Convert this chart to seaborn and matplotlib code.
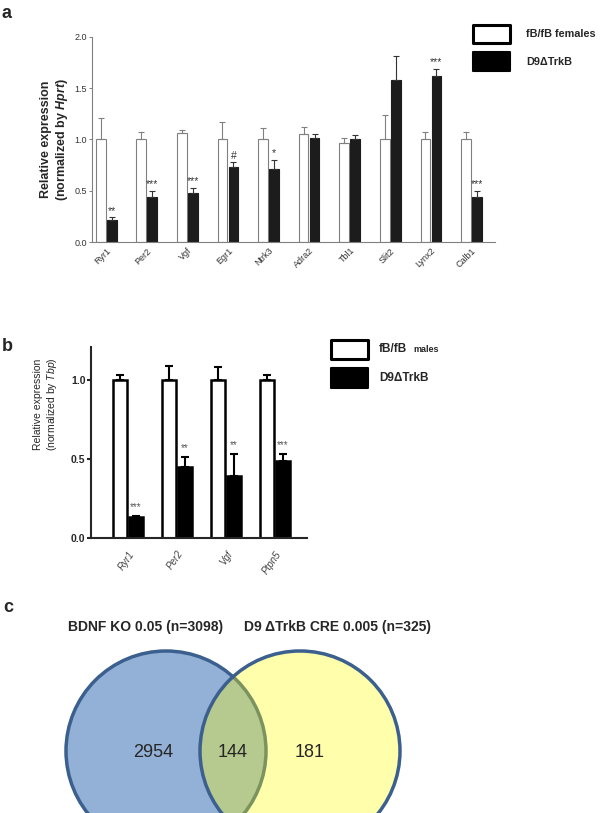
import numpy as np
import pandas as pd
import matplotlib
matplotlib.use('Agg')
import matplotlib.pyplot as plt
import seaborn as sns
from matplotlib.patches import Circle, Rectangle

# Panel a: females, normalized by Hprt
genes_a = ['Ryr1', 'Per2', 'Vgf', 'Egr1', 'Ntrk3', 'Adra2', 'Tbl1', 'Slit2', 'Lynx2', 'Calb1']
ctrl_a = [1.0, 1.0, 1.06, 1.0, 1.0, 1.05, 0.97, 1.0, 1.0, 1.0]
ctrl_a_err = [0.21, 0.07, 0.03, 0.17, 0.11, 0.07, 0.04, 0.24, 0.07, 0.07]
ko_a = [0.21, 0.44, 0.48, 0.73, 0.71, 1.01, 1.0, 1.58, 1.62, 0.44]
ko_a_err = [0.03, 0.06, 0.05, 0.05, 0.09, 0.04, 0.04, 0.23, 0.07, 0.06]
stars_a = ['**', '***', '***', '#', '*', '', '', '', '***', '***']

# Panel b: males, normalized by Tbp
genes_b = ['Ryr1', 'Per2', 'Vgf', 'Ptpn5']
ctrl_b = [1.0, 1.0, 1.0, 1.0]
ctrl_b_err = [0.03, 0.09, 0.085, 0.03]
ko_b = [0.135, 0.45, 0.39, 0.49]
ko_b_err = [0.005, 0.065, 0.14, 0.045]
stars_b = ['***', '**', '**', '***']

# Panel c: venn counts
only_bdnf = 2954
both = 144
only_trkb = 181

W, H = 600, 813

sns.set_style('ticks')
plt.rcParams['font.family'] = ['Liberation Sans', 'DejaVu Sans']
plt.rcParams['mathtext.fontset'] = 'custom'
plt.rcParams['mathtext.rm'] = 'Liberation Sans'
plt.rcParams['mathtext.it'] = 'Liberation Sans:italic'
plt.rcParams['mathtext.bf'] = 'Liberation Sans:bold'
plt.rcParams['mathtext.bfit'] = 'Liberation Sans:italic:bold'


def px_rect(x0, y0, x1, y1):
    # pixel box (top-left origin) -> figure fraction rect
    return [x0 / W, 1 - y1 / H, (x1 - x0) / W, (y1 - y0) / H]


def fx(x):
    return x / W


def fy(y):
    return 1 - y / H


def add_errors(ax, errs_list, colors, lw, cap):
    for cont, errs, col in zip(ax.containers, errs_list, colors):
        xs = [b.get_x() + b.get_width() / 2 for b in cont]
        ys = [b.get_height() for b in cont]
        ax.errorbar(xs, ys, yerr=[np.zeros(len(errs)), errs], fmt='none',
                    ecolor=col, elinewidth=lw, capsize=cap, capthick=lw, zorder=1)


def add_stars(ax, stars, errs, off, size, color):
    cont = ax.containers[1]
    for b, s, e in zip(cont, stars, errs):
        if s:
            x = b.get_x() + b.get_width() / 2
            ax.text(x, b.get_height() + e + off, s, ha='center', va='bottom',
                    fontsize=size, color=color)


fig = plt.figure(figsize=(6, 8.13), dpi=100)

# ---------- panel a ----------
ax_a = fig.add_axes(px_rect(92, 37, 495, 242))
df_a = pd.DataFrame({'gene': genes_a * 2,
                     'group': ['fB/fB females'] * len(genes_a) + ['D9ΔTrkB'] * len(genes_a),
                     'value': ctrl_a + ko_a})
sns.barplot(data=df_a, x='gene', y='value', hue='group', palette=['white', '#1c1c1c'],
            width=0.54, gap=0.12, errorbar=None, legend=False, ax=ax_a, linewidth=0.8)
for cont, ec in zip(ax_a.containers, ['#808080', '#1c1c1c']):
    for b in cont:
        b.set_edgecolor(ec)
add_errors(ax_a, [ctrl_a_err, ko_a_err], ['#808080', '#333333'], 0.8, 2)
add_stars(ax_a, stars_a, ko_a_err, 0.015, 7.5, '#333333')
ax_a.set_xlim(-0.35, 9.58)
ax_a.set_ylim(0, 2.0)
ax_a.set_yticks([0.0, 0.5, 1.0, 1.5, 2.0])
ax_a.set_yticklabels(['0.0', '0.5', '1.0', '1.5', '2.0'])
ax_a.set_xlabel('')
ax_a.set_ylabel('Relative expression\n(normalized by $\\mathbfit{Hprt}$)',
                fontsize=9, fontweight='bold', labelpad=3)
ax_a.tick_params(axis='y', length=2, width=0.7, colors='#808080', labelsize=6.5,
                 labelcolor='#333333', pad=1.5)
ax_a.tick_params(axis='x', length=0, labelsize=6.5, labelcolor='#333333', pad=3)
for lab in ax_a.get_xticklabels():
    lab.set_rotation(45)
    lab.set_ha('right')
    lab.set_rotation_mode('anchor')
sns.despine(ax=ax_a)
for sp in ['left', 'bottom']:
    ax_a.spines[sp].set_color('#808080')
    ax_a.spines[sp].set_linewidth(0.8)

# legend a
fig.add_artist(Rectangle((fx(473), fy(43)), (510 - 473) / W, 18 / H, transform=fig.transFigure,
                         fc='white', ec='black', lw=2.2, joinstyle='round'))
fig.add_artist(Rectangle((fx(473), fy(71)), (510 - 473) / W, 19 / H, transform=fig.transFigure,
                         fc='black', ec='black', lw=1.5, joinstyle='round'))
fig.text(fx(526), fy(34), 'fB/fB females', fontsize=7.8, fontweight='bold', va='center')
fig.text(fx(526), fy(62), 'D9ΔTrkB', fontsize=7.8, fontweight='bold', va='center')

# ---------- panel b ----------
ax_b = fig.add_axes(px_rect(91, 347, 307, 538))
df_b = pd.DataFrame({'gene': genes_b * 2,
                     'group': ['fB/fB males'] * len(genes_b) + ['D9ΔTrkB'] * len(genes_b),
                     'value': ctrl_b + ko_b})
sns.barplot(data=df_b, x='gene', y='value', hue='group', palette=['white', 'black'],
            width=0.65, gap=0.1, errorbar=None, legend=False, ax=ax_b,
            linewidth=1.8, edgecolor='black')
add_errors(ax_b, [ctrl_b_err, ko_b_err], ['black', 'black'], 1.5, 3)
add_stars(ax_b, stars_b, ko_b_err, 0.025, 7, '#555555')
ax_b.set_xlim(-0.755, 3.65)
ax_b.set_ylim(0, 1.21)
ax_b.set_yticks([0.0, 0.5, 1.0])
ax_b.set_yticklabels(['0.0', '0.5', '1.0'], fontweight='bold')
ax_b.set_xlabel('')
ax_b.set_ylabel('Relative expression\n(normalized by $\\mathit{Tbp}$)', fontsize=7.5)
ax_b.yaxis.set_label_coords(-0.15, 0.70)
ax_b.tick_params(axis='y', length=3, width=1.5, labelsize=7.5, pad=1)
ax_b.tick_params(axis='x', length=0, labelsize=7, labelcolor='#444444', pad=8)
for lab in ax_b.get_xticklabels():
    lab.set_rotation(55)
    lab.set_ha('right')
    lab.set_rotation_mode('anchor')
    lab.set_style('italic')
sns.despine(ax=ax_b)
for sp in ['left', 'bottom']:
    ax_b.spines[sp].set_linewidth(1.5)

# legend b
fig.add_artist(Rectangle((fx(331), fy(359)), 37 / W, 19 / H, transform=fig.transFigure,
                         fc='white', ec='black', lw=2.2, joinstyle='round'))
fig.add_artist(Rectangle((fx(331), fy(388)), 37 / W, 20 / H, transform=fig.transFigure,
                         fc='black', ec='black', lw=1.5, joinstyle='round'))
fig.text(fx(379), fy(349), 'fB/fB', fontsize=8.5, fontweight='bold', va='center')
fig.text(fx(413), fy(350), 'males', fontsize=6.5, fontweight='bold', va='center')
fig.text(fx(379), fy(378), 'D9ΔTrkB', fontsize=8.5, fontweight='bold', va='center')

# ---------- panel c ----------
ax_c = fig.add_axes([0, 0, 1, 1], zorder=-1)
ax_c.set_xlim(0, W)
ax_c.set_ylim(H, 0)
ax_c.axis('off')
edge = '#3b5f8e'
ax_c.add_patch(Circle((166, 751), 100, fc='#93b1d6', ec=edge, lw=2.5))
ax_c.add_patch(Circle((300, 751), 100, fc=(1, 1, 0, 0.33), ec='none'))
ax_c.add_patch(Circle((300, 751), 100, fc='none', ec=edge, lw=2.5))
ax_c.text(153, 752, str(only_bdnf), fontsize=13, ha='center', va='center')
ax_c.text(233, 752, str(both), fontsize=13, ha='center', va='center')
ax_c.text(310, 752, str(only_trkb), fontsize=13, ha='center', va='center')
ax_c.text(146, 627, f'BDNF KO 0.05 (n={only_bdnf + both})', fontsize=10,
          fontweight='bold', ha='center', va='center')
ax_c.text(337, 627, f'D9 ΔTrkB CRE 0.005 (n={only_trkb + both})', fontsize=10,
          fontweight='bold', ha='center', va='center')

# panel letters
fig.text(fx(7), fy(13), 'a', fontsize=13, fontweight='bold', ha='center', va='center')
fig.text(fx(7), fy(346), 'b', fontsize=13, fontweight='bold', ha='center', va='center')
fig.text(fx(8), fy(607), 'c', fontsize=13, fontweight='bold', ha='center', va='center')

fig.savefig('out.png', dpi=100)
